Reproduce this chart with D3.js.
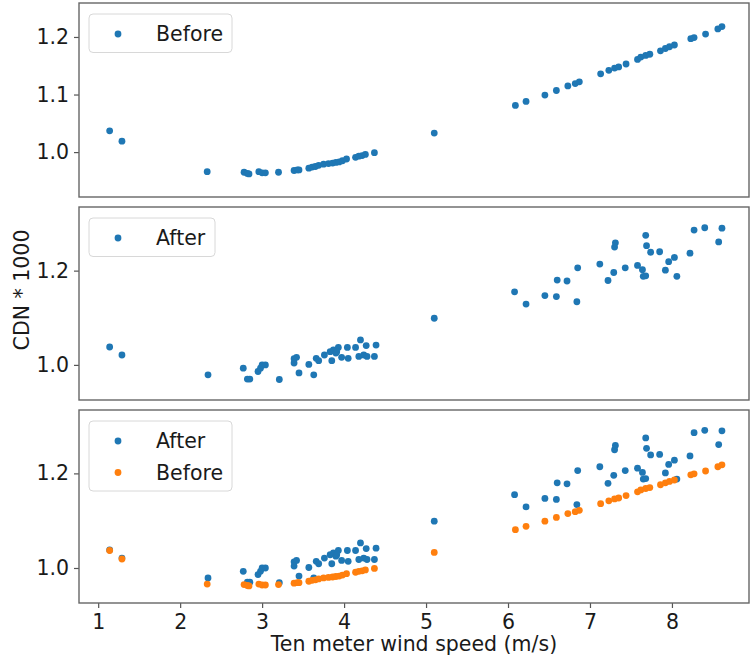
<!DOCTYPE html>
<html>
<head>
<meta charset="utf-8">
<script src="https://cdn.jsdelivr.net/npm/d3@7"></script>
<style>
  html, body { margin: 0; padding: 0; background: #fff; }
  svg text { font-family: "DejaVu Sans", sans-serif; fill: #1a1a1a; }
</style>
</head>
<body>
<svg id="chart" width="751" height="665"></svg>
<script>
// Drag coefficient (CDN * 1000) vs ten-meter wind speed, before and after correction
const beforeWind = [1.14, 1.29, 2.33, 2.78, 2.82, 2.84, 2.96, 3.00, 3.04, 3.20, 3.39, 3.43, 3.45, 3.57, 3.61, 3.65, 3.69, 3.75, 3.81, 3.86, 3.90, 3.94, 3.98, 4.03, 4.14, 4.18, 4.22, 4.26, 4.37, 5.10, 6.09, 6.22, 6.45, 6.59, 6.73, 6.82, 6.87, 7.13, 7.23, 7.30, 7.35, 7.44, 7.58, 7.62, 7.68, 7.73, 7.86, 7.92, 7.97, 8.03, 8.23, 8.27, 8.41, 8.56, 8.61];
const beforeCdn  = [1.037, 1.019, 0.966, 0.965, 0.963, 0.962, 0.966, 0.964, 0.964, 0.965, 0.968, 0.969, 0.969, 0.972, 0.974, 0.975, 0.977, 0.979, 0.980, 0.981, 0.982, 0.983, 0.985, 0.988, 0.991, 0.993, 0.994, 0.996, 0.999, 1.033, 1.081, 1.088, 1.099, 1.107, 1.115, 1.119, 1.122, 1.136, 1.142, 1.146, 1.148, 1.153, 1.161, 1.165, 1.168, 1.170, 1.176, 1.180, 1.183, 1.186, 1.197, 1.199, 1.205, 1.214, 1.218];

const afterWind = [1.14, 1.29, 2.34, 2.77, 2.82, 2.85, 2.95, 2.98, 3.00, 3.04, 3.21, 3.39, 3.42, 3.39, 3.45, 3.57, 3.63, 3.66, 3.69, 3.76, 3.83, 3.85, 3.87, 3.90, 3.93, 3.91, 3.97, 4.04, 4.05, 4.14, 4.20, 4.18, 4.24, 4.27, 4.28, 4.39, 4.37, 5.10, 6.08, 6.22, 6.45, 6.59, 6.60, 6.72, 6.84, 6.85, 7.12, 7.22, 7.29, 7.30, 7.31, 7.43, 7.58, 7.64, 7.65, 7.68, 7.68, 7.69, 7.74, 7.85, 7.92, 7.96, 8.03, 8.06, 8.22, 8.27, 8.40, 8.57, 8.61];
const afterCdn  = [1.038, 1.021, 0.979, 0.993, 0.970, 0.970, 0.986, 0.993, 1.000, 1.000, 0.969, 1.013, 1.016, 1.004, 0.983, 1.001, 0.979, 1.014, 1.009, 1.021, 1.028, 1.009, 1.032, 1.025, 1.037, 1.028, 1.016, 1.037, 1.014, 1.037, 1.053, 1.018, 1.021, 1.041, 1.018, 1.042, 1.018, 1.099, 1.155, 1.129, 1.147, 1.145, 1.180, 1.178, 1.134, 1.206, 1.214, 1.179, 1.196, 1.250, 1.259, 1.206, 1.211, 1.202, 1.188, 1.189, 1.275, 1.253, 1.239, 1.240, 1.201, 1.219, 1.228, 1.188, 1.237, 1.286, 1.291, 1.261, 1.290];

const xTicks = [1, 2, 3, 4, 5, 6, 7, 8];
const yTicksTop = [1.0, 1.1, 1.2];
const yTicksLower = [1.0, 1.2];

const BLUE = "#1f77b4", ORANGE = "#ff7f0e";
const FONT = 20.5;

const svg = d3.select("#chart");
const left = 79, right = 749;

const x = d3.scaleLinear().domain([0.766, 8.94]).range([left, right]);

const panels = [
  { top: 3,   bottom: 197, domain: [0.922, 1.259], ticks: yTicksTop,
    series: [{ name: "Before", xs: beforeWind, ys: beforeCdn, color: BLUE }] },
  { top: 207, bottom: 400, domain: [0.9255, 1.335], ticks: yTicksLower,
    series: [{ name: "After", xs: afterWind, ys: afterCdn, color: BLUE }] },
  { top: 410, bottom: 603, domain: [0.926, 1.334], ticks: yTicksLower, xaxis: true,
    series: [{ name: "After", xs: afterWind, ys: afterCdn, color: BLUE },
             { name: "Before", xs: beforeWind, ys: beforeCdn, color: ORANGE }] }
];

panels.forEach(p => {
  const y = d3.scaleLinear().domain(p.domain).range([p.bottom, p.top]);
  const g = svg.append("g");

  // points
  p.series.forEach(s => {
    g.append("g").selectAll("circle")
      .data(d3.range(s.xs.length))
      .join("circle")
      .attr("cx", i => x(s.xs[i]))
      .attr("cy", i => y(s.ys[i]))
      .attr("r", 3.4)
      .attr("fill", s.color);
  });

  // y axis
  const ya = g.append("g")
    .attr("transform", `translate(${left},0)`)
    .call(d3.axisLeft(y).tickValues(p.ticks).tickFormat(d3.format(".1f")).tickSize(5).tickPadding(5));
  ya.select(".domain").remove();
  ya.selectAll(".tick line").attr("stroke", "#555").attr("stroke-width", 1.2);
  ya.selectAll(".tick text").attr("font-size", FONT).attr("fill", "#1a1a1a")
    .attr("font-family", '"DejaVu Sans", sans-serif');

  if (p.xaxis) {
    const xa = g.append("g")
      .attr("transform", `translate(0,${p.bottom})`)
      .call(d3.axisBottom(x).tickValues(xTicks).tickFormat(d3.format("d")).tickSize(5).tickPadding(6));
    xa.select(".domain").remove();
    xa.selectAll(".tick line").attr("stroke", "#555").attr("stroke-width", 1.2);
    xa.selectAll(".tick text").attr("font-size", FONT).attr("fill", "#1a1a1a")
      .attr("font-family", '"DejaVu Sans", sans-serif');
  }

  // frame
  g.append("rect")
    .attr("x", left).attr("y", p.top)
    .attr("width", right - left).attr("height", p.bottom - p.top)
    .attr("fill", "none").attr("stroke", "#666").attr("stroke-width", 1.4);

  // legend
  const rowH = 31.5;
  const legW = d3.max(p.series, s => s.name === "Before" ? 143 : 126);
  const lg = g.append("g").attr("transform", `translate(89,${p.top + 11})`);
  lg.append("rect")
    .attr("width", legW).attr("height", 7 + rowH * p.series.length)
    .attr("rx", 4).attr("fill", "#fff").attr("fill-opacity", 0.85)
    .attr("stroke", "#d8d8d8").attr("stroke-width", 1);
  p.series.forEach((s, i) => {
    const cy = 20 + i * rowH;
    lg.append("circle").attr("cx", 29).attr("cy", cy).attr("r", 3.4).attr("fill", s.color);
    lg.append("text").attr("x", 67).attr("y", cy).attr("dy", "0.36em")
      .attr("font-size", FONT).text(s.name);
  });
});

// axis titles
svg.append("text")
  .attr("x", (left + right) / 2).attr("y", 651)
  .attr("text-anchor", "middle").attr("font-size", FONT)
  .text("Ten meter wind speed (m/s)");

svg.append("text")
  .attr("transform", "translate(29,290) rotate(-90)")
  .attr("text-anchor", "middle").attr("font-size", FONT)
  .text("CDN * 1000");
</script>
</body>
</html>
